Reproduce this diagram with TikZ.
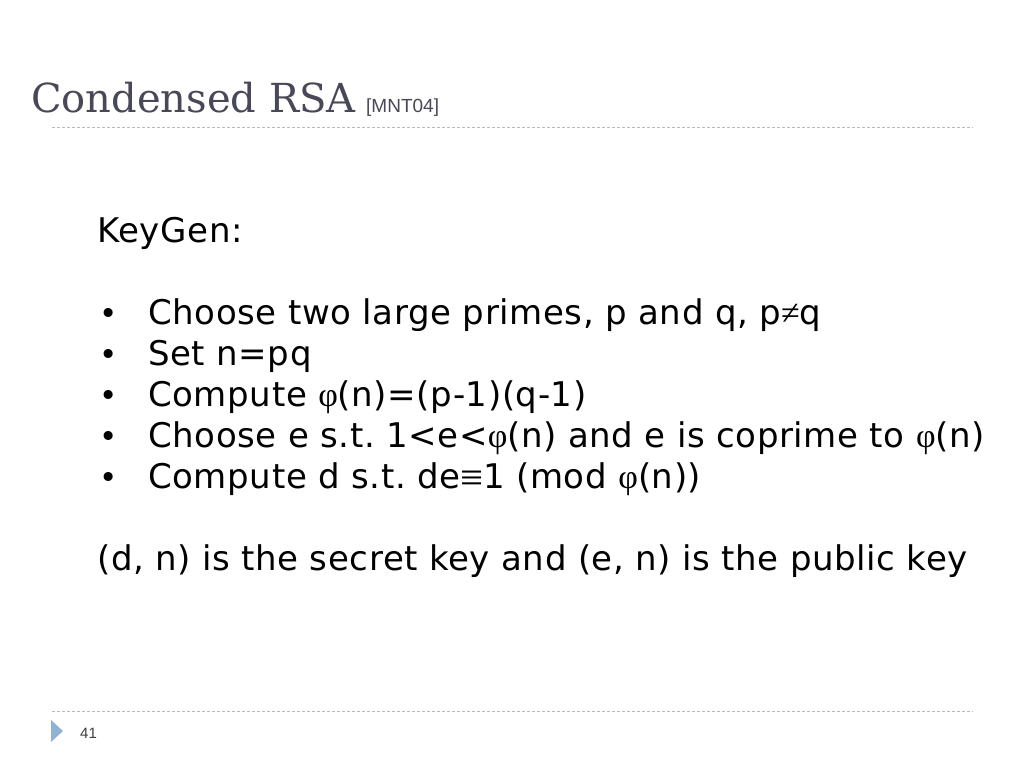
\documentclass[tikz,border=0pt]{standalone}
\usepackage{fontspec}
\setmainfont{DejaVu Sans}
\newfontfamily\bodyfont[LetterSpace=1.8]{DejaVu Sans}
\newfontfamily\titlefont{DejaVu Serif}
\newfontfamily\arialfont{Liberation Sans}
\newfontfamily\symfont{Liberation Serif}
\newfontfamily\bigsymfont[Scale=1.2]{Liberation Serif}
\newcommand{\phis}{{\symfont φ}}
\definecolor{titlecol}{RGB}{72,72,86}
\definecolor{linecol}{RGB}{178,186,200}
\definecolor{tricol}{RGB}{143,178,210}
\definecolor{numcol}{RGB}{64,64,64}
\tikzset{
  bodytext/.style={anchor=base west, inner sep=0pt, font=\bodyfont\fontsize{34}{40}\selectfont\frenchspacing},
  bulletmark/.style={anchor=base west, inner sep=0pt, font=\bodyfont\fontsize{31}{38}\selectfont},
  rule/.style={linecol, line width=1pt, dash pattern=on 3pt off 2pt}
}
\begin{document}
\begin{tikzpicture}[x=1pt,y=1pt]
\useasboundingbox (0,0) rectangle (1024,768);
\fill[white] (0,0) rectangle (1024,768);
\node[anchor=base west, inner sep=0pt, text=titlecol, font=\titlefont\fontsize{40}{48}\selectfont] (title) at (31,655) {Condensed RSA};
\node[anchor=base west, inner sep=0pt, text=titlecol, font=\arialfont\fontsize{19}{22}\selectfont] (ref) at (366,655) {[MNT04]};
\coordinate (t1) at (52,640);
\coordinate (t2) at (973,640);
\draw[rule] (t1) -- (t2);
\coordinate (b1) at (52,57);
\coordinate (b2) at (973,57);
\draw[rule] (b1) -- (b2);
\fill[tricol] (51,48) -- (51,26) -- (63,37) -- cycle;
\node[anchor=base west, inner sep=0pt, text=numcol, font=\arialfont\fontsize{15}{18}\selectfont] (num) at (80,30) {41};
\node[bodytext] (kg) at (97,525) {KeyGen:};
\node[bulletmark] (u1) at (99,443) {•};
\node[bodytext] (l1) at (148,443) {Choose two large primes, p and q, p{\symfont ≠}q};
\node[bulletmark] (u2) at (99,402) {•};
\node[bodytext] (l2) at (148,402) {Set n=pq};
\node[bulletmark] (u3) at (99,361) {•};
\node[bodytext] (l3) at (148,361) {Compute \phis(n)=(p-1)(q-1)};
\node[bulletmark] (u4) at (99,320) {•};
\node[bodytext] (l4) at (148,320) {Choose e s.t. 1<e<\phis(n) and e is coprime to \phis(n)};
\node[bulletmark] (u5) at (99,279) {•};
\node[bodytext] (l5) at (148,279) {Compute d s.t. de\raisebox{-3pt}{\bigsymfont ≡}1 (mod \phis(n))};
\node[bodytext] (last) at (97,197) {(d, n) is the secret key and (e, n) is the public key};
\end{tikzpicture}
\end{document}
